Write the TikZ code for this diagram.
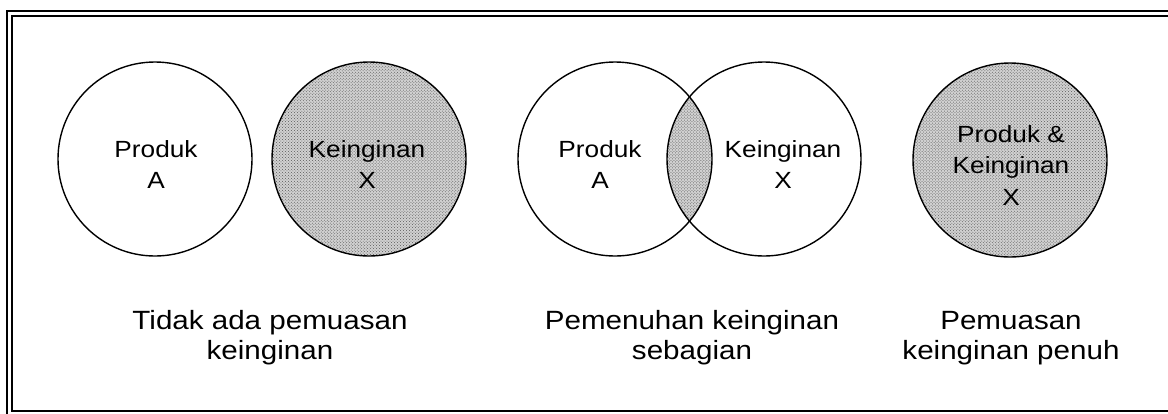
\documentclass[tikz,border=0pt]{standalone}
\usepackage{fontspec}
\setmainfont{Liberation Sans}[FakeStretch=1.12]
\usetikzlibrary{patterns,backgrounds}

\begin{document}
\begin{tikzpicture}[
  x=1bp, y=-1bp,
  ring/.style={draw, circle, line width=1.4bp, minimum size=194bp, inner sep=0pt},
  halftone/.style={preaction={fill=black!18}, pattern=crosshatch dots, pattern color=black!65},
  inlabel/.style={align=center, font=\fontsize{23.5}{32}\selectfont},
  caption/.style={align=center, font=\fontsize{26.5}{30}\selectfont}
]
\useasboundingbox (0,0) rectangle (1168,413);
% double frame (right side runs off the page)
\draw[line width=2bp] (7,11) rectangle (1190,430);
\draw[line width=1.2bp] (12,16) rectangle (1185,411);

% tidak ada pemuasan
\node[ring] (prodA) at (155,159) {};
\node[ring, halftone] (wantX) at (369,159) {};
\node[inlabel] (prodAtxt) at (156,164.5) {Produk\\A};
\node[inlabel] (wantXtxt) at (367,164.5) {Keinginan\\X};

% sebagian
\node[ring] (vennA) at (615,159) {};
\node[ring] (vennX) at (764,159) {};
\begin{scope}[on background layer]
  \clip (vennA.center) circle[radius=97bp];
  \fill[halftone] (vennX.center) circle[radius=97bp];
\end{scope}
\node[inlabel] (vennAtxt) at (600,164.5) {Produk\\A};
\node[inlabel] (vennXtxt) at (783,164.5) {Keinginan\\X};

% penuh
\node[ring, halftone] (full) at (1010,160) {};
\node[inlabel] (fulltxt) at (1011,165.5) {Produk \&\\Keinginan\\X};

% captions
\node[caption] (capnone) at (270,338) {Tidak ada pemuasan\\keinginan};
\node[caption] (cappart) at (692,338) {Pemenuhan keinginan\\sebagian};
\node[caption] (capfull) at (1011,338) {Pemuasan\\keinginan penuh};
\end{tikzpicture}
\end{document}
